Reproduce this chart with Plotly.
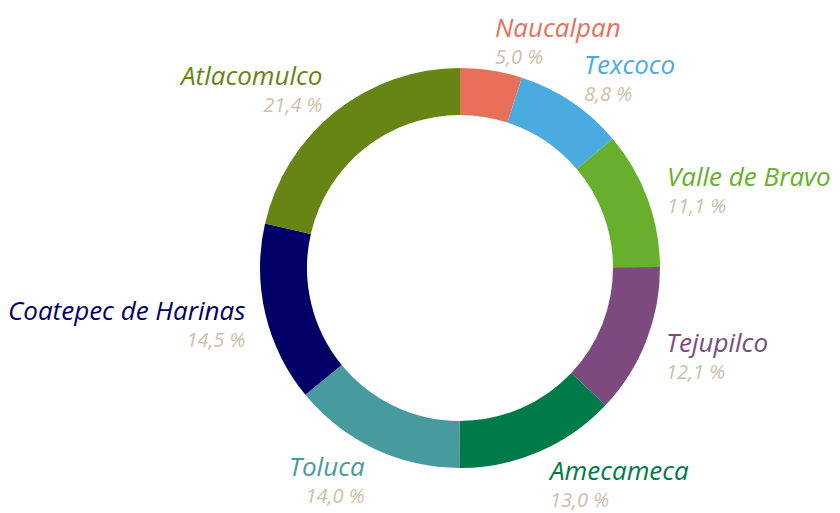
import math
import plotly.graph_objects as go

categories = ["Naucalpan", "Texcoco", "Valle de Bravo", "Tejupilco", "Amecameca",
              "Toluca", "Coatepec de Harinas", "Atlacomulco"]
values = [5.0, 8.8, 11.1, 12.1, 13.0, 14.0, 14.5, 21.4]
colors = ["#E8705A", "#4AABDF", "#68AF2E", "#7D4A80", "#007A48",
          "#479B9F", "#000066", "#678515"]
pct_color = "#CDBFA8"

W, H = 840, 513
ml, mr, mt, mb = 252, 188, 60, 53
dom = 400.0

fig = go.Figure(go.Pie(
    labels=categories, values=values, hole=0.765, sort=False,
    direction="clockwise", rotation=0,
    marker=dict(colors=colors, line=dict(width=0)),
    textinfo="none", hoverinfo="label+percent", showlegend=False,
))

total = sum(values)
rx = 220.0 / dom
ry = 232.0 / dom
cum = 0.0
for name, v, c in zip(categories, values, colors):
    mid = (cum + v / 2) / total * 2 * math.pi
    cum += v
    sx, sy = math.sin(mid), math.cos(mid)
    x = 0.5 + rx * sx
    y = 0.5 + ry * sy
    right = sx >= 0
    pct = f"{v:.1f}".replace(".", ",") + " %"
    text = (f"<span style='color:{c};font-size:26px'>{name}</span><br>"
            f"<span style='color:{pct_color};font-size:20px'>{pct}</span>")
    fig.add_annotation(
        x=x, y=y, xref="paper", yref="paper", text=text, showarrow=False,
        xanchor="left" if right else "right", yanchor="middle",
        align="left" if right else "right", yshift=-1, borderpad=0,
        font=dict(family="Open Sans", size=21, style="italic", color=c),
    )

fig.update_layout(
    width=W, height=H, margin=dict(l=ml, r=mr, t=mt, b=mb),
    paper_bgcolor="white", plot_bgcolor="white",
)
fig.write_html("out.html")
